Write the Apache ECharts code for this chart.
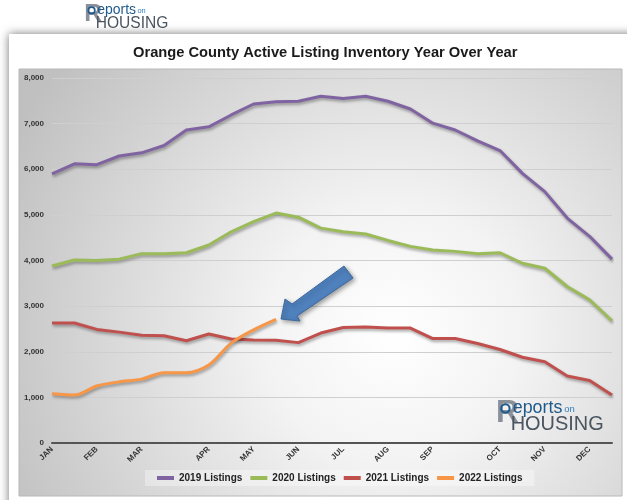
<!DOCTYPE html>
<html><head><meta charset="utf-8">
<script src="https://cdn.jsdelivr.net/npm/echarts@6/dist/echarts.min.js"></script>
<style>html,body{margin:0;padding:0;background:#fff}#c{width:627px;height:500px}</style>
</head><body><div id="c"></div>
<script>
const periods = ['Jan 1','Jan 2','Feb 1','Feb 2','Mar 1','Mar 2','Mar 3','Apr 1','Apr 2','May 1','May 2','Jun 1','Jun 2','Jul 1','Jul 2','Aug 1','Aug 2','Sep 1','Sep 2','Sep 3','Oct 1','Oct 2','Nov 1','Nov 2','Dec 1','Dec 2'];
const tickLabels = ['JAN','','FEB','','MAR','','','APR','','MAY','','JUN','','JUL','','AUG','','SEP','','','OCT','','NOV','','DEC',''];
const listings2019 = [5900,6120,6100,6290,6360,6520,6860,6930,7190,7430,7480,7490,7600,7550,7600,7490,7320,7010,6860,6620,6410,5910,5510,4930,4530,4030];
const listings2020 = [3880,4010,4000,4030,4150,4150,4170,4340,4630,4850,5040,4950,4710,4630,4580,4440,4310,4230,4200,4150,4170,3940,3830,3430,3140,2680];
const listings2021 = [2630,2630,2490,2430,2360,2350,2240,2390,2280,2260,2250,2200,2410,2530,2540,2520,2520,2290,2290,2180,2050,1880,1780,1470,1370,1050];
const listings2022 = [1080,1050,1250,1340,1400,1540,1540,1710,2190,2480,2710];
const seriesNames = ['2019 Listings','2020 Listings','2021 Listings','2022 Listings'];
const colors = ['#8064a2','#9bbb59','#c0504d','#f79646'];

const chart = echarts.init(document.getElementById('c'), null, {renderer:'canvas'});
const FONT = '"Liberation Sans", Arial, sans-serif';
const shadow = {shadowColor:'rgba(0,0,0,0.35)', shadowBlur:3, shadowOffsetX:1, shadowOffsetY:2};
function mk(name, data, color, smooth){
  return {name, type:'line', data, smooth: smooth || false, symbol:'none', showSymbol:false,
    itemStyle:{color}, lineStyle:Object.assign({width:3, color}, shadow), z:3};
}
function logo(x, y, s, z){
  return {type:'group', x, y, z, silent:true, children:[
    {type:'text', style:{x:-1*s, y:-2*s, text:'R', font:'bold '+(30*s)+'px '+FONT, fill:'#8a9099', textVerticalAlign:'top'}},
    {type:'circle', shape:{cx:8*s, cy:9*s, r:4*s}, style:{fill:'none', stroke:'#1f5a8a', lineWidth:2*s}},
    {type:'text', style:{x:15*s, y:0, text:'eports', font:(17*s)+'px '+FONT, fill:'#1f5a8a', textVerticalAlign:'top'}},
    {type:'text', style:{x:64*s, y:6*s, text:'on', font:(9*s)+'px '+FONT, fill:'#2f7fbf', textVerticalAlign:'top'}},
    {type:'text', style:{x:13*s, y:15*s, text:'HOUSING', font:(19*s)+'px '+FONT, fill:'#4a5560', textVerticalAlign:'top'}}
  ]};
}
chart.setOption({
  animation:false,
  color:colors,
  title:{text:'Orange County Active Listing Inventory Year Over Year', left:128, top:40,
    textStyle:{fontFamily:FONT, fontSize:14.7, fontWeight:'bold', color:'#1a1a1a'}},
  graphic:[
    {type:'rect', z:-10, shape:{x:9, y:34, width:640, height:490}, style:{fill:'#fff', shadowColor:'rgba(0,0,0,0.55)', shadowBlur:9}},
    {type:'rect', z:-9, shape:{x:19, y:69, width:603, height:427},
      style:{stroke:'#b8b8b8', lineWidth:1, fill:{type:'radial', x:0.62, y:0.62, r:1.0, colorStops:[
        {offset:0, color:'#ffffff'},{offset:0.3, color:'#f3f3f3'},{offset:1, color:'#c0c0c0'}]}}},
    logo(85, 3, 0.82, 5),
    logo(497, 399, 1.05, 1),
    {type:'polygon', z:10, shape:{points:[[281,319],[285,299],[292,304],[344,266],[353,278],[297,316],[300,321]]},
      style:{fill:'#4f81bd', stroke:'#3d6b9e', lineWidth:1, shadowColor:'rgba(0,0,0,0.35)', shadowBlur:4, shadowOffsetX:2, shadowOffsetY:2}}
  ],
  legend:{data:seriesNames, left:145, top:470, itemWidth:17, itemHeight:4, itemGap:8, icon:'rect',
    backgroundColor:'rgba(255,255,255,0.35)', padding:[3,12],
    textStyle:{fontFamily:FONT, fontSize:10, color:'#222', fontWeight:'bold'}},
  grid:{left:52, right:15, top:78, bottom:57, containLabel:false},
  xAxis:{type:'category', data:periods, boundaryGap:false,
    axisLine:{lineStyle:{color:'#555', width:2}}, axisTick:{show:false},
    axisLabel:{interval:(i)=>tickLabels[i]!=='', formatter:(v,i)=>tickLabels[i], rotate:45, margin:5,
      fontFamily:FONT, fontSize:8, fontWeight:'bold', color:'#333'}},
  yAxis:{type:'value', min:0, max:8000, interval:1000,
    axisLine:{show:false}, axisTick:{show:false},
    splitLine:{lineStyle:{color:'#cfcfcf', width:1}},
    axisLabel:{formatter:(v)=>v.toLocaleString('en-US'), margin:8, fontFamily:FONT, fontSize:8, fontWeight:'bold', color:'#333'}},
  series:[
    mk(seriesNames[0], listings2019, colors[0]),
    mk(seriesNames[1], listings2020, colors[1]),
    mk(seriesNames[2], listings2021, colors[2]),
    mk(seriesNames[3], listings2022, colors[3], 0.3)
  ]
});
</script></body></html>
